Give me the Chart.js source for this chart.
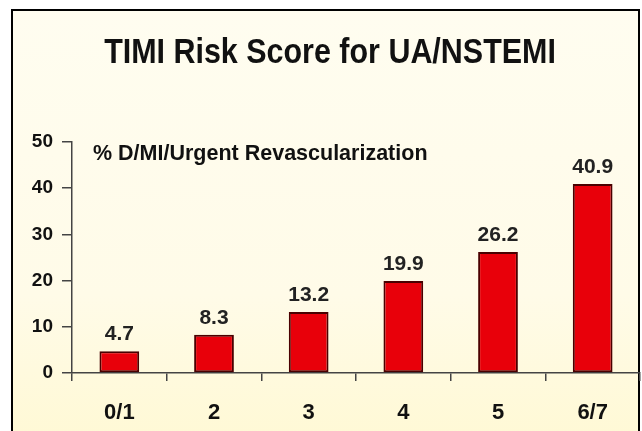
<!DOCTYPE html>
<html>
<head>
<meta charset="utf-8">
<script src="https://cdn.jsdelivr.net/npm/chart.js@4/dist/chart.umd.min.js"></script>
<style>
  html, body { margin: 0; padding: 0; background: #ffffff; }
  #wrap { position: relative; width: 642px; height: 431px; overflow: hidden; }
  #frame {
    position: absolute; left: 11px; top: 9px; width: 629px; height: 440px;
    border: 2px solid #000; box-sizing: border-box;
    background: linear-gradient(#fffdf0 0%, #fffbe8 65%, #fff9d4 100%);
  }
  #c { position: absolute; left: 0; top: 0; }
</style>
</head>
<body>
<div id="wrap">
  <div id="frame"></div>
  <canvas id="c" width="642" height="431"></canvas>
</div>
<script>
const categories = ["0/1", "2", "3", "4", "5", "6/7"];
const rates = [4.7, 8.3, 13.2, 19.9, 26.2, 40.9];
const yTicks = [0, 10, 20, 30, 40, 50];
const titleText = "TIMI Risk Score for UA/NSTEMI";
const noteText = "% D/MI/Urgent Revascularization";

const FONT = "'Liberation Sans', Arial, sans-serif";

// condensed bold title (no narrow face installed, so squeeze horizontally)
const titlePlugin = {
  id: "narrowTitle",
  afterDraw(chart) {
    const { ctx } = chart;
    ctx.save();
    ctx.translate(330, 63);
    ctx.scale(0.87, 1);
    ctx.font = `bold 35px ${FONT}`;
    ctx.fillStyle = "#111";
    ctx.textAlign = "center";
    ctx.textBaseline = "alphabetic";
    ctx.fillText(titleText, 0, 0);
    ctx.restore();
  }
};

// value labels above bars + the note at top-left of plot
const labelsPlugin = {
  id: "labels",
  afterDatasetsDraw(chart) {
    const { ctx, chartArea } = chart;
    const meta = chart.getDatasetMeta(0);
    ctx.save();
    ctx.fillStyle = "#222";
    ctx.font = `bold 21px ${FONT}`;
    ctx.textAlign = "center";
    ctx.textBaseline = "alphabetic";
    meta.data.forEach((bar, i) => {
      ctx.fillText(rates[i].toFixed(1), bar.x, bar.y - 11);
    });
    ctx.font = `bold 21.5px ${FONT}`;
    ctx.textAlign = "left";
    ctx.fillStyle = "#111";
    ctx.fillText(noteText, chartArea.left + 21, chartArea.top + 18);
    ctx.restore();
  }
};

new Chart(document.getElementById("c").getContext("2d"), {
  type: "bar",
  data: {
    labels: categories,
    datasets: [{
      data: rates,
      backgroundColor: "#e8000a",
      borderColor: "#4a0000",
      borderWidth: 2,
      borderSkipped: false,
      barPercentage: 0.42,
      categoryPercentage: 1
    }]
  },
  options: {
    responsive: false,
    animation: false,
    layout: { padding: { left: 0, right: 2, top: 142, bottom: 0 } },
    plugins: {
      legend: { display: false },
      tooltip: { enabled: false },
      title: { display: false }
    },
    scales: {
      x: {
        offset: true,
        grid: { offset: true, drawOnChartArea: false, tickLength: 8, color: "#444", lineWidth: 1.5 },
        border: { color: "#444", width: 1.5 },
        ticks: { color: "#111", padding: 19, font: { family: FONT, size: 22, weight: "bold" } },
        afterFit(s) { s.height = 58; }
      },
      y: {
        min: 0, max: 50,
        afterBuildTicks(s) { s.ticks = yTicks.map(v => ({ value: v })); },
        grid: { drawOnChartArea: false, tickLength: 10, color: "#444", lineWidth: 1.5 },
        border: { color: "#444", width: 1.5 },
        ticks: { color: "#111", padding: 9, font: { family: FONT, size: 19, weight: "bold" } },
        afterFit(s) { s.width = 72; }
      }
    }
  },
  plugins: [labelsPlugin, titlePlugin]
});
</script>
</body>
</html>
